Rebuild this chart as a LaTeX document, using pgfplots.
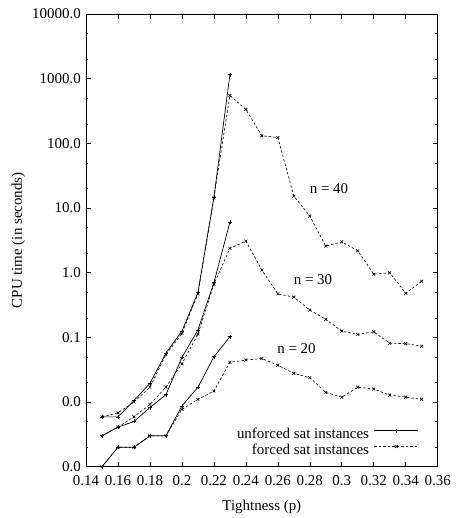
\documentclass[border=0pt]{standalone}
\usepackage{pgfplots}
\pgfplotsset{compat=1.18}
\usepackage{fontspec}
\setmainfont{Liberation Serif}

\begin{document}
\fontsize{15}{17.5}\selectfont
\begin{tikzpicture}
\useasboundingbox (-86bp,-51.3bp) rectangle (370bp,466.7bp);
\begin{axis}[
    scale only axis,
    width=351.7bp, height=452.7bp,
    ymode=log,
    xmin=0.14, xmax=0.36,
    ymin=0.001, ymax=10000,
    xtick={0.14,0.16,0.18,0.2,0.22,0.24,0.26,0.28,0.3,0.32,0.34,0.36},
    xticklabels={0.14,0.16,0.18,0.2,0.22,0.24,0.26,0.28,0.3,0.32,0.34,0.36},
    ytick={0.001,0.01,0.1,1,10,100,1000,10000},
    yticklabels={0.0,0.0,0.1,1.0,10.0,100.0,1000.0,10000.0},
    minor ytick={0.002,0.005,0.02,0.05,0.2,0.5,2,5,20,50,200,500,2000,5000},
    tick pos=both,
    tick align=inside,
    major tick length=5bp,
    minor tick length=2.5bp,
    every tick/.style={black, line width=0.6bp},
    axis line style={line width=0.9bp},
    xticklabel style={yshift=-4bp},
    xlabel={Tightness (p)},
    ylabel={CPU time (in seconds)},
    xlabel style={yshift=-4bp},
    ylabel style={yshift=-3bp},
    clip=false,
    legend plot pos=right,
    legend cell align=right,
    legend style={at={(0.955,0.012)}, anchor=south east, draw=none, fill=none,
        row sep=0pt, nodes={inner sep=1bp, text height=10.5bp, text depth=3.5bp},
        /tikz/every odd column/.append style={column sep=4bp}},
]
\pgfplotsset{
    unf/.style={black, line width=0.7bp, mark=+, mark size=2bp, mark options={solid},
        legend image code/.code={\draw[mark repeat=2,mark phase=2,##1] plot coordinates {(0bp,4.5bp) (22bp,4.5bp) (44bp,4.5bp)};}},
    frc/.style={black, line width=0.6bp, dash pattern=on 2.5bp off 2bp, mark=x, mark size=2bp, mark options={solid},
        legend image code/.code={\draw[mark repeat=2,mark phase=2,##1] plot coordinates {(0bp,4.5bp) (22bp,4.5bp) (44bp,4.5bp)};}},
}
% n = 40
\addplot[unf] coordinates {
    (0.15,0.0059) (0.16,0.0059) (0.17,0.0105) (0.18,0.0195) (0.19,0.057)
    (0.20,0.125) (0.21,0.49) (0.22,14.6) (0.23,1150)
};
\addlegendentry{unforced sat instances}
\addplot[frc] coordinates {
    (0.15,0.0059) (0.16,0.0068) (0.17,0.0100) (0.18,0.0170) (0.19,0.054)
    (0.20,0.115) (0.21,0.47) (0.22,14.3) (0.23,550) (0.24,334) (0.25,131)
    (0.26,123) (0.27,15.3) (0.28,7.5) (0.29,2.58) (0.30,3.0) (0.31,2.18)
    (0.32,0.95) (0.33,1.0) (0.34,0.48) (0.35,0.74)
};
\addlegendentry{forced sat instances}
% n = 30
\addplot[unf, forget plot] coordinates {
    (0.15,0.0030) (0.16,0.0041) (0.17,0.0050) (0.18,0.0082) (0.19,0.0130)
    (0.20,0.049) (0.21,0.130) (0.22,0.70) (0.23,6.0)
};
\addplot[frc, forget plot] coordinates {
    (0.15,0.0030) (0.16,0.0041) (0.17,0.0059) (0.18,0.0092) (0.19,0.0170)
    (0.20,0.039) (0.21,0.112) (0.22,0.66) (0.23,2.38) (0.24,3.08) (0.25,1.10)
    (0.26,0.47) (0.27,0.42) (0.28,0.264) (0.29,0.19) (0.30,0.125) (0.31,0.111)
    (0.32,0.122) (0.33,0.081) (0.34,0.080) (0.35,0.073)
};
% n = 20
\addplot[unf, forget plot] coordinates {
    (0.15,0.001) (0.16,0.002) (0.17,0.002) (0.18,0.003) (0.19,0.003)
    (0.20,0.0087) (0.21,0.0169) (0.22,0.050) (0.23,0.102)
};
\addplot[frc, forget plot] coordinates {
    (0.15,0.001) (0.16,0.002) (0.17,0.002) (0.18,0.003) (0.19,0.003)
    (0.20,0.0077) (0.21,0.011) (0.22,0.0148) (0.23,0.041) (0.24,0.0446)
    (0.25,0.047) (0.26,0.037) (0.27,0.0278) (0.28,0.0238) (0.29,0.0141)
    (0.30,0.0119) (0.31,0.0169) (0.32,0.0159) (0.33,0.0128) (0.34,0.0119)
    (0.35,0.011)
};
\node at (axis cs:0.292,20) {n = 40};
\node at (axis cs:0.282,0.79) {n = 30};
\node at (axis cs:0.2717,0.066) {n = 20};
\end{axis}
\end{tikzpicture}
\end{document}
